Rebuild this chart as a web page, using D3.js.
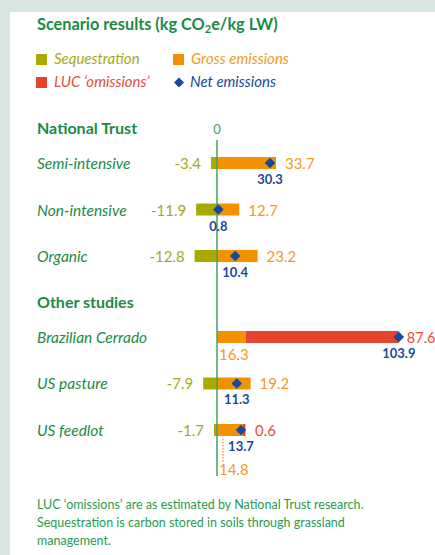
<!DOCTYPE html>
<html><head><meta charset="utf-8">
<script src="https://cdn.jsdelivr.net/npm/d3@7"></script>
<style>
html,body{margin:0;padding:0;background:#d7e6e0;}
svg{display:block;font-family:Lato,"Open Sans",sans-serif;}
</style></head>
<body>
<svg id="c" width="435" height="555"></svg>
<script>
// ---- data ----
const categories = ["Semi-intensive","Non-intensive","Organic","Brazilian Cerrado","US pasture","US feedlot"];
const groups = [0,0,0,1,1,1];
const groupTitles = ["National Trust","Other studies"];
const sequestration = [-3.4,-11.9,-12.8,0,-7.9,-1.7];
const gross = [33.7,12.7,23.2,16.3,19.2,14.8];
const luc = [0,0,0,87.6,0,0.6];
const net = [30.3,0.8,10.4,103.9,11.3,13.7];
const legendLabels = ["Sequestration","Gross emissions","LUC \u2018omissions\u2019","Net emissions"];
const footer = ["LUC \u2018omissions\u2019 are as estimated by National Trust research.",
  "Sequestration is carbon stored in soils through grassland",
  "management."];

// ---- styles ----
const C = {seq:"#a9aa00", gross:"#f39200", luc:"#e6432f", net:"#174a9a",
  seqT:"#a6a81a", grossT:"#f39a1e", lucT:"#e84e3a", green:"#1a8b45", axis:"#4a9e63"};

const svg = d3.select("#c");
svg.append("rect").attr("x",10).attr("y",12).attr("width",425).attr("height",543).attr("fill","#fff");

const x = d3.scaleLinear().domain([0,100]).range([217,392]);
const pos = categories.map((c,i)=> i + (groups[i] ? 0.74 : 0));
const y = d3.scaleLinear().domain([0,5.74]).range([163,430]);
const bh = 12;

// title
const t = svg.append("text").attr("x",37).attr("y",30).attr("fill",C.green)
  .attr("font-weight","bold").attr("font-size",16.3);
t.append("tspan").text("Scenario results (kg CO");
t.append("tspan").text("2").attr("font-size",11).attr("dy",3);
t.append("tspan").text("e/kg LW)").attr("dy",-3);

// legend
const leg = [
  {k:"seq", lx:36, ly:54, tc:C.seqT},
  {k:"gross", lx:173, ly:54, tc:C.grossT},
  {k:"luc", lx:36, ly:77, tc:C.lucT},
  {k:"net", lx:173, ly:77, tc:C.net}];
leg.forEach((l,i)=>{
  if(l.k==="net"){
    svg.append("path").attr("d",d3.symbol(d3.symbolSquare,50)())
      .attr("transform",`translate(${l.lx+6},${l.ly+5.5}) rotate(45)`).attr("fill",C.net);
  } else {
    svg.append("rect").attr("x",l.lx).attr("y",l.ly).attr("width",11).attr("height",11).attr("fill",C[l.k]);
  }
  svg.append("text").attr("x",l.lx+(l.k==="net"?17:18)).attr("y",l.ly+10).attr("fill",l.tc)
    .attr("font-style","italic").attr("font-size",15).text(legendLabels[i]);
});

// group headings
svg.append("text").attr("x",37).attr("y",134).attr("fill",C.green).attr("font-weight","bold")
  .attr("font-size",16).text(groupTitles[0]);
svg.append("text").attr("x",37).attr("y",308).attr("fill",C.green).attr("font-weight","bold")
  .attr("font-size",16).text(groupTitles[1]);

// zero axis label
svg.append("text").attr("x",x(0)).attr("y",134).attr("text-anchor","middle").attr("fill",C.axis)
  .attr("font-size",13).text("0");

// category labels
categories.forEach((c,i)=>{
  svg.append("text").attr("x",37).attr("y",y(pos[i])+6).attr("fill",C.green)
    .attr("font-style","italic").attr("font-size",15.5).text(c);
});

// bars
categories.forEach((c,i)=>{
  const cy = y(pos[i]);
  const g = svg.append("g");
  if(sequestration[i]<0)
    g.append("rect").attr("x",x(sequestration[i])).attr("y",cy-bh/2).attr("width",x(0)-x(sequestration[i])).attr("height",bh).attr("fill",C.seq);
  g.append("rect").attr("x",x(0)).attr("y",cy-bh/2).attr("width",x(gross[i])-x(0)).attr("height",bh).attr("fill",C.gross);
  if(luc[i]>0)
    g.append("rect").attr("x",x(gross[i])).attr("y",cy-bh/2).attr("width",Math.max(2.5,x(gross[i]+luc[i])-x(gross[i]))).attr("height",bh).attr("fill",C.luc);
});

svg.append("line").attr("x1",x(0)).attr("x2",x(0)).attr("y1",140).attr("y2",476)
  .attr("stroke",C.axis).attr("stroke-width",1.5);

// diamonds + labels
categories.forEach((c,i)=>{
  const cy = y(pos[i]);
  svg.append("path").attr("d",d3.symbol(d3.symbolSquare,56)())
    .attr("transform",`translate(${x(net[i])},${cy}) rotate(45)`).attr("fill",C.net);
  svg.append("text").attr("x",x(net[i])).attr("y",cy+21).attr("text-anchor","middle")
    .attr("fill",C.net).attr("font-weight","bold").attr("font-size",13).text(net[i].toFixed(1));
  if(sequestration[i]<0)
    svg.append("text").attr("x",x(sequestration[i])-10).attr("y",cy+6).attr("text-anchor","end")
      .attr("fill",C.seqT).attr("font-size",15).text(sequestration[i].toFixed(1));
  if(luc[i]>0){
    svg.append("text").attr("x",x(gross[i]+luc[i])+(luc[i]>50?8:11)).attr("y",cy+6)
      .attr("fill",C.lucT).attr("font-size",luc[i]>50?14.5:15).text(luc[i].toFixed(1));
    const below = x(net[i]) - x(0) < 60;
    const gy = below ? cy+45 : cy+23;
    svg.append("text").attr("x",x(0)+2).attr("y",gy).attr("fill",C.grossT)
      .attr("font-size",15).text(gross[i].toFixed(1));
    if(below)
      svg.append("line").attr("x1",x(0)+6).attr("x2",x(0)+6).attr("y1",cy+bh/2+3).attr("y2",gy-13)
        .attr("stroke",C.gross).attr("stroke-width",1.2).attr("stroke-dasharray","1.5,1.5");
  } else {
    svg.append("text").attr("x",x(gross[i])+9).attr("y",cy+6)
      .attr("fill",C.grossT).attr("font-size",15).text(gross[i].toFixed(1));
  }
});

// footer
footer.forEach((f,i)=>{
  svg.append("text").attr("x",37).attr("y",509+i*18).attr("fill","#2a9a50").attr("font-size",12.5).text(f);
});
</script>
</body></html>
